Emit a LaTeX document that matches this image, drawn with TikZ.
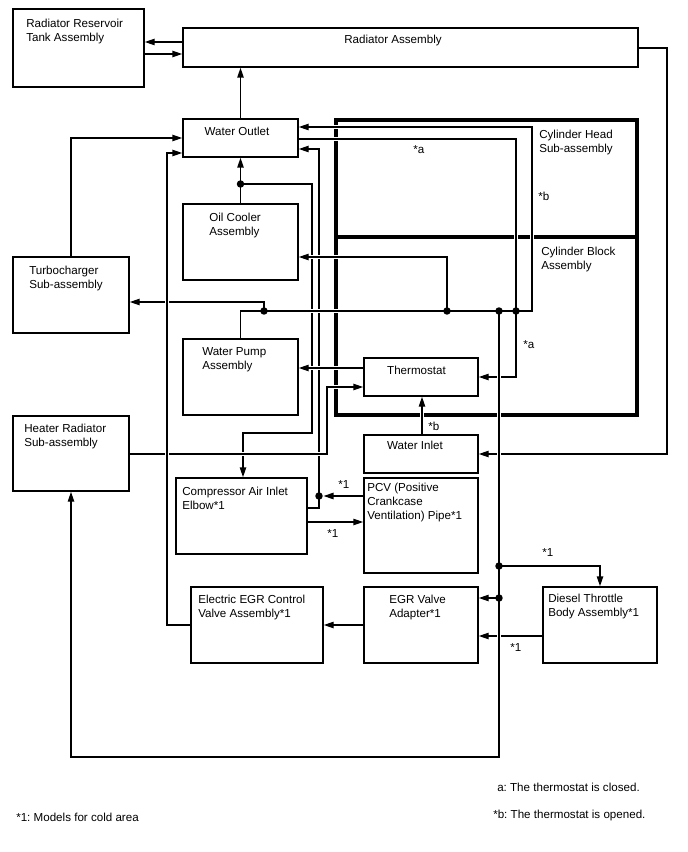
\documentclass[tikz,border=0pt]{standalone}
\usepackage{fontspec}
\setmainfont{Liberation Sans}
\usetikzlibrary{arrows.meta,fit}
\frenchspacing
\begin{document}
\begin{tikzpicture}[x=0.75pt,y=-0.75pt,
  box/.style={draw,line width=1.1pt,inner sep=0pt},
  thickbox/.style={draw,line width=2.3pt,inner sep=0pt},
  txt/.style={font=\fontsize{8.7}{10.5}\selectfont,inner sep=0pt,align=left},
  wire/.style={line width=1.1pt},
  conn/.style={line width=1.1pt,-{Triangle[length=7.5pt,width=4.8pt]}},
  halo/.style={preaction={draw=white,line width=3.4pt,arrows=-,shorten <=3pt,shorten >=3pt}},
  jdot/.style={circle,fill,inner sep=0pt,minimum size=5.6pt}]
\useasboundingbox (0,0) rectangle (688,852);

% boxes
\node[box,fit={(13,9) (144,87)}] (res) {};
\node[box,fit={(183,28) (638,67)}] (rad) {};
\node[box,fit={(183,119) (298,157)}] (wout) {};
\node[box,fit={(183,204) (298,280)}] (oil) {};
\node[box,fit={(13,257) (129,333)}] (turbo) {};
\node[box,fit={(183,339) (298,415)}] (pump) {};
\node[box,fit={(13,416) (129,491)}] (heater) {};
\node[box,fit={(364,358) (478,396)}] (thermo) {};
\node[box,fit={(364,435) (478,473)}] (inlet) {};
\node[box,fit={(176,478) (307,554)}] (comp) {};
\node[box,fit={(364,478) (478,573)}] (pcv) {};
\node[box,fit={(191,587) (323,663)}] (egrc) {};
\node[box,fit={(364,587) (478,663)}] (egra) {};
\node[box,fit={(543,587) (657,663)}] (diesel) {};
\node[thickbox,fit={(336,120) (637,237)}] (head) {};
\node[thickbox,fit={(336,237) (637,415)}] (block) {};

% junction coordinates
\coordinate (d1) at (240.5,184);
\coordinate (d2) at (319,496);
\coordinate (d3) at (264,311);
\coordinate (d4) at (447,311);
\coordinate (d5) at (516,311);
\coordinate (d6) at (499,311);
\coordinate (d7) at (499,566);
\coordinate (d8) at (499,598);

% lines lying underneath
\draw[conn] (d1) -- (312,184) -- (312,433) -- (243,433) -- (243,0 |- comp.north);
\draw[conn] (comp.east |- 0,508) -- (319,508) -- (319,149) -- (wout.east |- 0,149);
\draw[conn,shorten >=3.4pt] (pcv.west |- d2) -- (d2);
\draw[conn] (d3) -- (264,302) -- (turbo.east |- 0,302);
\draw[conn] (rad.east |- 0,48) -- (667,48) -- (667,454) -- (inlet.east |- 0,454);
\draw[conn] (diesel.west |- 0,636) -- (egra.east |- 0,636);

% lines on top (with white gaps)
\draw[conn,halo] (pump.north) -- (pump.north |- d3) -- (532,311) -- (532,127) -- (wout.east |- 0,127);
\draw[conn,halo] (wout.east |- 0,139) -- (516,139) -- (516,377) -- (thermo.east |- 0,377);
\draw[conn,halo] (d4) -- (447,257) -- (oil.east |- 0,257);
\draw[conn,halo] (thermo.west |- 0,368) -- (pump.east |- 0,368);
\draw[conn,halo] (heater.east |- 0,454) -- (327,454) -- (327,387) -- (thermo.west |- 0,387);
\draw[conn,halo] (422,0 |- inlet.north) -- (422,0 |- thermo.south);
\draw[conn,halo] (d6) -- (499,757) -| (heater.south);
\draw[conn,halo] (egrc.west |- 0,625) -- (167,625) -- (167,153) -- (wout.west |- 0,153);

% other connectors
\draw[conn] (rad.west |- 0,42) -- (res.east |- 0,42);
\draw[conn] (res.east |- 0,54) -- (rad.west |- 0,54);
\draw[conn] (wout.north) -- (wout.north |- rad.south);
\draw[conn] (oil.north) -- (wout.south);
\draw[conn] (turbo.north) -- (turbo.north |- 0,138) -- (wout.west |- 0,138);
\draw[conn] (d7) -| (diesel.north);
\draw[conn] (d8) -- (egra.east |- d8);
\draw[conn] (egra.west |- 0,625) -- (egrc.east |- 0,625);
\draw[conn] (comp.east |- 0,522) -- (pcv.west |- 0,522);

% junction dots
\foreach \d in {d1,d2,d3,d4,d5,d6,d7,d8} \node[jdot] at (\d) {};

% texts
\node[txt,anchor=north west] (tres) at (26,19) {Radiator Reservoir\\Tank Assembly};
\node[txt,anchor=north] (trad) at (393,35) {Radiator Assembly};
\node[txt,anchor=north] (twout) at (237,127) {Water Outlet};
\node[txt,anchor=north west] (toil) at (209,212.5) {Oil Cooler\\Assembly};
\node[txt,anchor=north west] (tturbo) at (29,266) {Turbocharger\\Sub-assembly};
\node[txt,anchor=north west] (tpump) at (202,347) {Water Pump\\Assembly};
\node[txt,anchor=north west] (theater) at (24,424) {Heater Radiator\\Sub-assembly};
\node[txt,anchor=north] (tthermo) at (416.5,366) {Thermostat};
\node[txt,anchor=north] (tinlet) at (415,441) {Water Inlet};
\node[txt,anchor=north west] (tcomp) at (182,487) {Compressor Air Inlet\\Elbow*1};
\node[txt,anchor=north west] (tpcv) at (367,483) {PCV (Positive\\Crankcase\\Ventilation) Pipe*1};
\node[txt,anchor=north west] (tegrc) at (198,595) {Electric EGR Control\\Valve Assembly*1};
\node[txt,anchor=north west] (tegra) at (389,595) {EGR Valve\\Adapter*1};
\node[txt,anchor=north west] (tdiesel) at (548,594) {Diesel Throttle\\Body Assembly*1};
\node[txt,anchor=north west] (thead) at (539,130) {Cylinder Head\\Sub-assembly};
\node[txt,anchor=north west] (tblock) at (541,247) {Cylinder Block\\Assembly};

% small labels
\node[txt,anchor=base west] (la1) at (413,154) {*a};
\node[txt,anchor=base west] (lb1) at (538,201) {*b};
\node[txt,anchor=base west] (la2) at (523,348) {*a};
\node[txt,anchor=base west] (lb2) at (428,430) {*b};
\node[txt,anchor=base west] (l11) at (338,488) {*1};
\node[txt,anchor=base west] (l12) at (327,537) {*1};
\node[txt,anchor=base west] (l13) at (542,556) {*1};
\node[txt,anchor=base west] (l14) at (510,651) {*1};

% legend
\node[txt,anchor=base west] (lega) at (497,791) {a: The thermostat is closed.};
\node[txt,anchor=base west] (legb) at (493,818) {*b: The thermostat is opened.};
\node[txt,anchor=base west] (leg1) at (16,821) {*1: Models for cold area};
\end{tikzpicture}
\end{document}
